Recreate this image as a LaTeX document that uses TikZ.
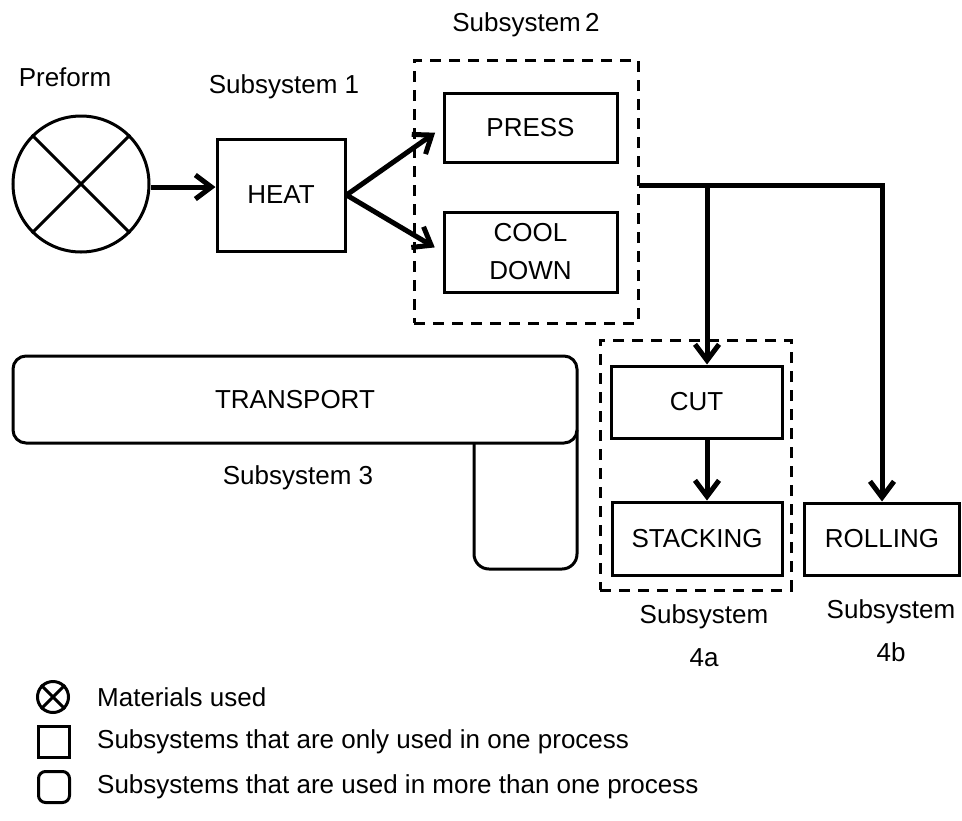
\documentclass[tikz,border=0pt]{standalone}
\usepackage{fontspec}
\setmainfont{Liberation Sans}
\usetikzlibrary{arrows.meta}
\begin{document}
\begin{tikzpicture}[x=1pt,y=-1pt,
  lbl/.style={font=\fontsize{26}{43}\selectfont, inner sep=0pt, align=center},
  box/.style={draw, line width=3pt, font=\fontsize{26}{38}\selectfont, inner sep=0pt, align=center},
  grp/.style={draw, line width=3pt, dash pattern=on 11pt off 8pt, inner sep=0pt},
  flow/.style={line width=5pt, -{Straight Barb[length=16pt,width=24pt]}},
  legtxt/.style={font=\fontsize{26}{30}\selectfont, inner sep=0pt, anchor=west}
]
\useasboundingbox (0,0) rectangle (962,820);

% materials
\node[circle, draw, line width=3pt, minimum size=136pt, inner sep=0pt] (pre) at (81,184) {};
\draw[line width=3pt] (pre.north west) -- (pre.south east);
\draw[line width=3pt] (pre.north east) -- (pre.south west);
\node[lbl] (prelbl) at (65,77) {Preform};

% subsystem 1
\node[box, minimum width=128pt, minimum height=112pt] (heat) at (281,195) {HEAT};
\node[lbl] (s1) at (284,87) {Subsystem 1};

% subsystem 2
\node[grp, minimum width=224pt, minimum height=263pt] (g2) at (526,191.5) {};
\node[lbl] (s2) at (526,25) {Subsystem\,2};
\node[box, minimum width=173pt, minimum height=69pt] (press) at (530.5,127.5) {PRESS};
\node[box, minimum width=173pt, minimum height=80pt] (cool) at (530.5,252) {COOL\\DOWN};

% subsystem 3
\draw[line width=3pt, rounded corners=15pt] (474,430) -- (474,569) -- (577,569) -- (577,430);
\node[draw, fill=white, line width=3pt, rounded corners=13pt, minimum width=564pt, minimum height=87pt, inner sep=0pt, font=\fontsize{26}{30}\selectfont] (trans) at (295,399.5) {TRANSPORT};
\node[lbl] (s3) at (298,478) {Subsystem 3};

% subsystem 4a
\node[grp, minimum width=191pt, minimum height=250pt] (g4a) at (695.5,465) {};
\node[box, minimum width=171pt, minimum height=72pt] (cut) at (696.5,402) {CUT};
\node[box, minimum width=170pt, minimum height=73pt] (stack) at (697,538.5) {STACKING};
\node[lbl] (s4a) at (704,636) {Subsystem\\4a};

% subsystem 4b
\node[box, minimum width=155pt, minimum height=72pt] (roll) at (882,539) {ROLLING};
\node[lbl] (s4b) at (891,631) {Subsystem\\4b};

% connectors
\coordinate (j0) at (639,185);
\coordinate (j1) at (707,185);
\draw[flow] (pre.east |- 0,187) -- (heat.west |- 0,187);
\draw[flow, shorten >=9pt] (heat.east) -- (press.west);
\draw[flow, shorten >=9pt] (heat.east) -- (cool.west);
\draw[flow, line join=miter] (j0) -| (roll.north);
\draw[flow] (j1) -- (cut.north -| j1);
\draw[flow] (cut.south -| j1) -- (stack.north -| j1);

% legend
\node[circle, draw, line width=3pt, minimum size=31pt, inner sep=0pt] (lc) at (53,697) {};
\draw[line width=3pt] (lc.north west) -- (lc.south east);
\draw[line width=3pt] (lc.north east) -- (lc.south west);
\node[draw, line width=3pt, minimum size=31pt, inner sep=0pt] (ls) at (54,742) {};
\node[draw, line width=3pt, rounded corners=7pt, minimum size=31pt, inner sep=0pt] (lr) at (54,787) {};
\node[legtxt] (lt1) at (97,697) {Materials used};
\node[legtxt] (lt2) at (97,742) {Subsystems that are only used in one process};
\node[legtxt] (lt3) at (97,787) {Subsystems that are used in more than one process};
\end{tikzpicture}
\end{document}
